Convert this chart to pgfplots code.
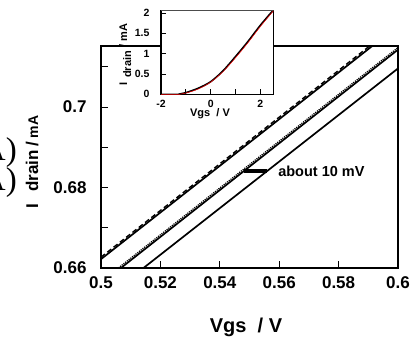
\documentclass[border=0pt]{standalone}
\usepackage{fontspec}
\setmainfont{Liberation Sans}
\newfontfamily\serifx{Liberation Serif}
\usepackage{pgfplots}
\pgfplotsset{compat=1.18}
\begin{document}
\begin{tikzpicture}[x=1pt,y=1pt]
\useasboundingbox (0,0) rectangle (412,338);
% clipped remnants of serif labels at the far left
\node[anchor=base east, inner sep=0pt, font=\serifx\fontsize{33}{33}\selectfont] at (17,178) {(A)};
\node[anchor=base east, inner sep=0pt, font=\serifx\fontsize{33}{33}\selectfont] at (17,148) {(A)};
% main axis
\begin{axis}[at={(101pt,70pt)}, anchor=south west, scale only axis,
  width=297pt, height=222pt,
  xmin=0.5, xmax=0.6, ymin=0.66, ymax=0.7152,
  xtick={0.5,0.52,0.54,0.56,0.58,0.6},
  xticklabels={0.5,0.52,0.54,0.56,0.58,0.6},
  ytick={0.66,0.68,0.7}, yticklabels={0.66,0.68,0.7},
  minor ytick={0.67,0.69,0.71},
  tick pos=left, tick align=inside,
  major tick length=7pt, minor tick length=7pt,
  every tick/.style={black, line width=1pt},
  axis line style={line width=2.5pt},
  ticklabel style={font=\fontsize{17}{17}\selectfont\bfseries},
  yticklabel style={xshift=-11pt},
  xticklabel style={yshift=-5pt},
  /pgf/number format/assume math mode=true,
]
% line A (solid + dashed overlay)
\addplot[black, line width=1.7pt] coordinates {(0.5,0.6622) (0.53,0.6796) (0.56,0.6970) (0.5915,0.7153)};
\addplot[black, line width=1.4pt, dash pattern=on 5pt off 3pt] coordinates {(0.5,0.6627) (0.53,0.6801) (0.56,0.6975) (0.5906,0.7153)};
% line B (solid + dotted noise)
\addplot[black, line width=1.7pt] coordinates {(0.5067,0.66) (0.53,0.67356) (0.56,0.69102) (0.6,0.71430)};
\addplot[black, line width=1.2pt, densely dotted] coordinates {(0.5058,0.66) (0.53,0.67408) (0.56,0.69154) (0.6,0.71482)};
% line C
\addplot[black, line width=1.7pt] coordinates {(0.5143,0.66) (0.55,0.68067) (0.6,0.70962)};
% 10 mV marker
\addplot[black, line width=3.5pt] coordinates {(0.5481,0.6841) (0.5559,0.6841)};
\node[anchor=west, font=\fontsize{14.5}{14.5}\selectfont\bfseries] at (axis cs:0.5585,0.6841) {about 10 mV};
\end{axis}
% inset axis
\begin{axis}[at={(161pt,243.7pt)}, anchor=south west, scale only axis,
  width=112.5pt, height=83.6pt,
  xmin=-2, xmax=2.53, ymin=0, ymax=2.06,
  xtick={-2,0,2}, xticklabels={-2,0,2}, minor xtick={-1,1},
  ytick={0,0.5,1,1.5,2}, yticklabels={0,0.5,1,1.5,2},
  tick pos=left, tick align=inside,
  major tick length=5pt, minor tick length=5pt,
  every tick/.style={black, line width=0.8pt},
  axis line style={line width=1.5pt},
  axis background/.style={fill=white},
  ticklabel style={font=\fontsize{10.5}{10.5}\selectfont\bfseries},
  yticklabel style={xshift=-8pt},
  xticklabel style={yshift=-2pt},
  /pgf/number format/assume math mode=true,
]
\addplot[black, line width=1.6pt, smooth] coordinates {(-2,0) (-1.3,0) (-1,0.04) (-0.5,0.15) (0,0.31) (0.5,0.58) (1,0.93) (1.5,1.30) (2,1.70) (2.53,2.08)};
\addplot[red, line width=0.5pt, smooth] coordinates {(-2,0) (-1.25,0) (-1,0.03) (-0.5,0.13) (0,0.30) (0.5,0.56) (1,0.90) (1.5,1.27) (2,1.67) (2.53,2.06)};
\draw[gray!60!black, line width=1.5pt] (rel axis cs:0,1) -- (rel axis cs:1,1);
\end{axis}
% axis labels
\node[anchor=base, font=\fontsize{20}{20}\selectfont\bfseries] at (246,6) {Vgs\ \ / V};
\node[anchor=base, rotate=90, inner sep=0pt, font=\fontsize{17}{17}\selectfont\bfseries] at (38,176) {I\hspace{0.7em}drain\hspace{0.25em}/\hspace{0.2em}{\fontsize{14}{14}\selectfont mA}};
\node[anchor=base, font=\fontsize{11}{11}\selectfont\bfseries] at (210,222) {Vgs\ \ / V};
\node[anchor=base, rotate=90, inner sep=0pt, font=\fontsize{11}{11}\selectfont\bfseries] at (127,283.5) {I\hspace{0.4em}\raisebox{-4pt}{drain}\hspace{0.3em}/ mA};
\end{tikzpicture}
\end{document}
